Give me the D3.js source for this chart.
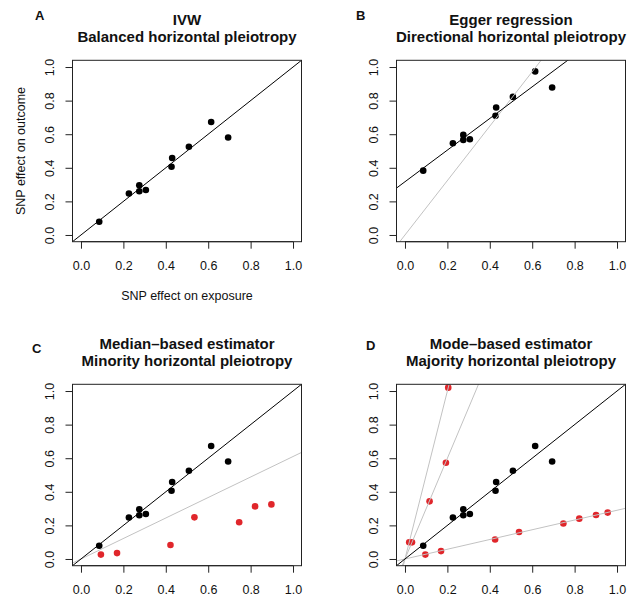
<!DOCTYPE html>
<html>
<head>
<meta charset="utf-8">
<script src="https://cdn.jsdelivr.net/npm/d3@7"></script>
<style>
  html, body { margin: 0; padding: 0; background: #fff; }
  svg { display: block; font-family: "Liberation Sans", Arial, Helvetica, sans-serif; }
</style>
</head>
<body>
<svg id="chart" width="628" height="601"></svg>
<script>
// ---------------- data ----------------
const tickValues = [0, 0.2, 0.4, 0.6, 0.8, 1.0];
const tickLabels = ["0.0", "0.2", "0.4", "0.6", "0.8", "1.0"];

// valid SNPs (black points)
const exposure   = [0.086, 0.226, 0.275, 0.275, 0.306, 0.427, 0.430, 0.509, 0.614, 0.694];
const outcomeBal = [0.079, 0.247, 0.296, 0.260, 0.268, 0.406, 0.458, 0.525, 0.673, 0.580];
const outcomeDir = [0.383, 0.546, 0.596, 0.566, 0.570, 0.710, 0.759, 0.822, 0.974, 0.878];

// invalid SNPs (red points)
const minorityExposure = [0.094, 0.170, 0.422, 0.535, 0.746, 0.821, 0.898];
const minorityOutcome  = [0.026, 0.035, 0.083, 0.248, 0.219, 0.313, 0.325];

const majorityExposure = [0.020, 0.204, 0.033, 0.116, 0.193, 0.096, 0.170, 0.425, 0.538, 0.747, 0.822, 0.901, 0.956];
const majorityOutcome  = [0.100, 1.020, 0.099, 0.343, 0.573, 0.026, 0.047, 0.116, 0.161, 0.211, 0.240, 0.262, 0.276];

// fitted lines: intercepts and slopes
const linesAIntercept = [0];            const linesASlope = [1];
const linesBIntercept = [0.317, 0];     const linesBSlope = [0.942, 1.62];
const linesCIntercept = [0, 0];         const linesCSlope = [1, 0.61];
const linesDIntercept = [0, 0, 0, 0];   const linesDSlope = [1, 5, 3, 0.29];

const titles1 = ["IVW", "Egger regression", "Median\u2013based estimator", "Mode\u2013based estimator"];
const titles2 = ["Balanced horizontal pleiotropy", "Directional horizontal pleiotropy",
                 "Minority horizontal pleiotropy", "Majority horizontal pleiotropy"];
const panelLetters = ["A", "B", "C", "D"];

// ---------------- layout / style ----------------
const BLACK = "#000";
const RED = "#e0262b";
const GREY = "#c2c2c2";

const panels = [
  { left: 72.5, top: 60.3, letter: [35, 20], black: [exposure, outcomeBal], red: null,
    lines: [linesAIntercept, linesASlope], lineColors: [BLACK], axisTitles: true },
  { left: 396.5, top: 60.3, letter: [356, 20], black: [exposure, outcomeDir], red: null,
    lines: [linesBIntercept, linesBSlope], lineColors: [BLACK, GREY], axisTitles: false },
  { left: 72.5, top: 384.3, letter: [32, 353], black: [exposure, outcomeBal], red: [minorityExposure, minorityOutcome],
    lines: [linesCIntercept, linesCSlope], lineColors: [BLACK, GREY], axisTitles: false },
  { left: 396.5, top: 384.3, letter: [366, 350], black: [exposure, outcomeBal], red: [majorityExposure, majorityOutcome],
    lines: [linesDIntercept, linesDSlope], lineColors: [BLACK, GREY, GREY, GREY], axisTitles: false }
];
const W = 229, H = 181.4;
const domain = [-0.04, 1.04];

const svg = d3.select("#chart");

panels.forEach((p, i) => {
  const x = d3.scaleLinear().domain(domain).range([p.left, p.left + W]);
  const y = d3.scaleLinear().domain(domain).range([p.top + H, p.top]);
  const g = svg.append("g");
  const clipId = "clip" + i;
  svg.append("clipPath").attr("id", clipId).append("rect")
    .attr("x", p.left).attr("y", p.top).attr("width", W).attr("height", H);

  // points
  const pts = g.append("g");
  pts.selectAll("circle.b").data(d3.range(p.black[0].length)).join("circle")
    .attr("cx", k => x(p.black[0][k])).attr("cy", k => y(p.black[1][k]))
    .attr("r", 3.3).attr("fill", BLACK);
  if (p.red) {
    pts.selectAll("circle.r").data(d3.range(p.red[0].length)).join("circle")
      .attr("cx", k => x(p.red[0][k])).attr("cy", k => y(p.red[1][k]))
      .attr("r", 3.3).attr("fill", RED);
  }

  // lines (drawn on top of points, clipped to plot region)
  const lg = g.append("g").attr("clip-path", `url(#${clipId})`);
  const [ints, slopes] = p.lines;
  const order = d3.range(ints.length).reverse();
  order.forEach(k => {
    lg.append("line")
      .attr("x1", x(domain[0])).attr("y1", y(ints[k] + slopes[k] * domain[0]))
      .attr("x2", x(domain[1])).attr("y2", y(ints[k] + slopes[k] * domain[1]))
      .attr("stroke", p.lineColors[k]).attr("stroke-width", 1);
  });

  // box
  g.append("rect").attr("x", p.left).attr("y", p.top).attr("width", W).attr("height", H)
    .attr("fill", "none").attr("stroke", "#222").attr("stroke-width", 1);

  // axes
  const xAxis = d3.axisBottom(x).tickValues(tickValues).tickFormat((d, k) => tickLabels[k])
    .tickSizeInner(7).tickSizeOuter(0).tickPadding(8);
  const yAxis = d3.axisLeft(y).tickValues(tickValues).tickFormat((d, k) => tickLabels[k])
    .tickSizeInner(7).tickSizeOuter(0).tickPadding(8);
  const gx = g.append("g").attr("transform", `translate(0,${p.top + H})`).call(xAxis);
  const gy = g.append("g").attr("transform", `translate(${p.left},0)`).call(yAxis);
  [gx, gy].forEach(a => {
    a.selectAll(".domain").remove();
    a.selectAll("line").attr("stroke", "#222");
    a.selectAll("text").attr("fill", "#111").attr("font-size", "12.5px")
      .attr("font-family", "'Liberation Sans', Arial, sans-serif");
  });
  gx.selectAll("text").attr("dy", null).attr("y", 28);
  gy.selectAll(".tick text")
    .attr("x", null).attr("dy", null).attr("y", 0)
    .attr("text-anchor", "middle")
    .attr("transform", "translate(-19,0) rotate(-90)");

  // axis guide lines from first to last tick
  g.append("line").attr("x1", x(0)).attr("x2", x(1)).attr("y1", p.top + H).attr("y2", p.top + H)
    .attr("stroke", "#222");
  g.append("line").attr("y1", y(0)).attr("y2", y(1)).attr("x1", p.left).attr("x2", p.left)
    .attr("stroke", "#222");

  // titles
  const cx = p.left + W / 2;
  g.append("text").attr("x", cx).attr("y", p.top - 35.5).attr("text-anchor", "middle")
    .attr("font-weight", "bold").attr("font-size", "15px").attr("fill", "#111").text(titles1[i]);
  g.append("text").attr("x", cx).attr("y", p.top - 18.8).attr("text-anchor", "middle")
    .attr("font-weight", "bold").attr("font-size", "15px").attr("fill", "#111").text(titles2[i]);
  g.append("text").attr("x", p.letter[0]).attr("y", p.letter[1])
    .attr("font-weight", "bold").attr("font-size", "13px").attr("fill", "#111").text(panelLetters[i]);

  if (p.axisTitles) {
    g.append("text").attr("x", cx).attr("y", 300).attr("text-anchor", "middle")
      .attr("font-size", "12.5px").attr("fill", "#111").text("SNP effect on exposure");
    g.append("text").attr("transform", `translate(25,${p.top + H / 2}) rotate(-90)`)
      .attr("text-anchor", "middle").attr("font-size", "12.5px").attr("fill", "#111")
      .text("SNP effect on outcome");
  }
});
</script>
</body>
</html>
